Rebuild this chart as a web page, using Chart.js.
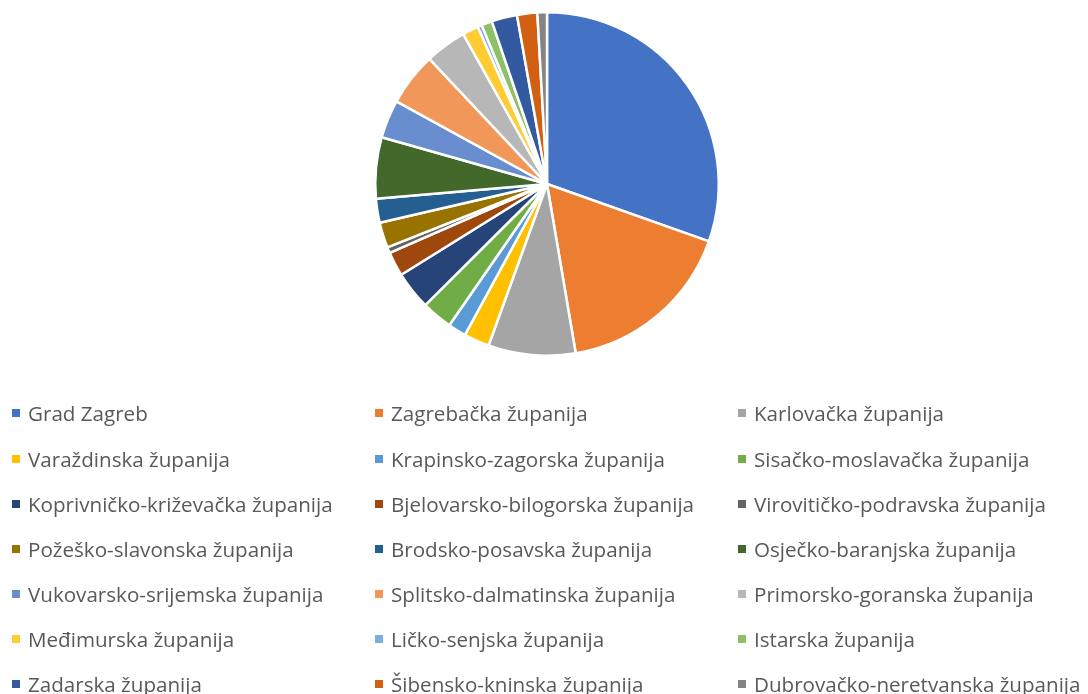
<!DOCTYPE html>
<html><head><meta charset="utf-8">
<script src="https://cdn.jsdelivr.net/npm/chart.js@4"></script>
<style>
html,body{margin:0;padding:0;background:#fff;width:1088px;height:694px;overflow:hidden;}
#wrap{position:absolute;left:0;top:0;width:1088px;height:370px;}
#legend{position:absolute;left:0;top:0;width:1088px;height:694px;font-family:"Open Sans","DejaVu Sans",sans-serif;font-size:20.6px;color:#595959;}
.item{position:absolute;white-space:nowrap;height:26px;line-height:26px;}
.box{position:absolute;left:0;top:9px;width:8px;height:8px;}
.txt{position:absolute;left:16px;top:0;}
</style></head><body>
<div id="wrap"><canvas id="c"></canvas></div>
<div id="legend"></div>
<script>
const categories = ["Grad Zagreb","Zagrebačka županija","Karlovačka županija","Varaždinska županija","Krapinsko-zagorska županija","Sisačko-moslavačka županija","Koprivničko-križevačka županija","Bjelovarsko-bilogorska županija","Virovitičko-podravska županija","Požeško-slavonska županija","Brodsko-posavska županija","Osječko-baranjska županija","Vukovarsko-srijemska županija","Splitsko-dalmatinska županija","Primorsko-goranska županija","Međimurska županija","Ličko-senjska županija","Istarska županija","Zadarska županija","Šibensko-kninska županija","Dubrovačko-neretvanska županija"];
const shares = [30.4,16.9,8.2,2.4,1.7,2.9,3.6,2.3,0.55,2.4,2.25,5.75,3.6,5.0,3.9,1.5,0.4,1.0,2.4,1.9,0.9];
const colors = ["#4472C4","#ED7D31","#A5A5A5","#FFC000","#5B9BD5","#70AD47","#264478","#9E480E","#636363","#997300","#255E91","#43682B","#698ED0","#F1975A","#B7B7B7","#FFCD33","#7CAFDD","#8CC168","#335AA1","#D26012","#848484"];

new Chart(document.getElementById('c'), {
  type: 'pie',
  data: { labels: categories, datasets: [{ data: shares, backgroundColor: colors, borderColor: '#ffffff', borderWidth: 2.5 }] },
  options: {
    responsive: true, maintainAspectRatio: false, animation: false,
    layout: { padding: { top: 11, bottom: 13, left: 6, right: 0 } },
    plugins: { legend: { display: false }, tooltip: { enabled: false } }
  }
});

const colX = [12, 375, 738];
const rowY = [413, 459, 504, 549, 594, 639, 684];
const leg = document.getElementById('legend');
categories.forEach((name, i) => {
  const d = document.createElement('div');
  d.className = 'item';
  d.style.left = colX[i % 3] + 'px';
  d.style.top = (rowY[Math.floor(i / 3)] - 13) + 'px';
  d.innerHTML = '<span class="box" style="background:' + colors[i] + '"></span><span class="txt"></span>';
  d.querySelector('.txt').textContent = name;
  leg.appendChild(d);
});
</script>
</body></html>
